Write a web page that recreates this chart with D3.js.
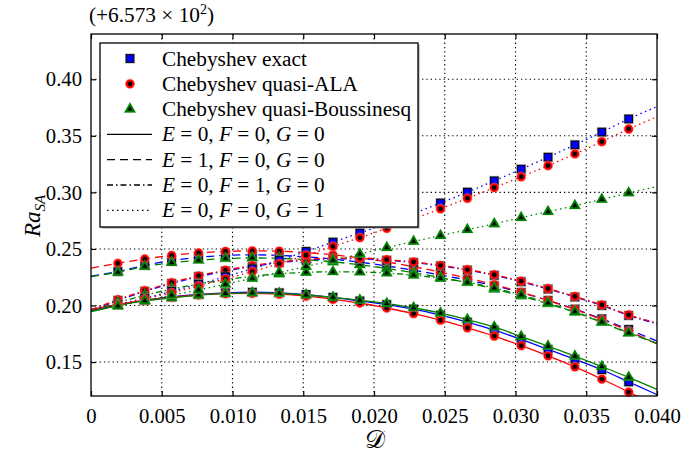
<!DOCTYPE html>
<html><head><meta charset="utf-8">
<script src="https://cdn.jsdelivr.net/npm/d3@7/dist/d3.min.js"></script>
<style>body{margin:0;background:#fff} text{font-family:"Liberation Serif","Times New Roman",serif;fill:#000}</style>
</head><body>
<svg id="c" width="682" height="459"></svg>
<script>
// ---------- data ----------
const xMarkers = [0.0019,0.0038,0.0057,0.0076,0.0095,0.0114,0.0133,0.0152,0.0171,0.0190,
                  0.0209,0.0228,0.0247,0.0266,0.0285,0.0304,0.0323,0.0342,0.0361,0.0380];
const xStart = 0, xEnd = 0.040;
// each series: value at x=0, at the 20 marker abscissae, and at x=0.040
const solidExact = [0.1955,0.2005,0.2045,0.2075,0.2098,0.2112,0.2117,0.2112,0.2097,0.2072,0.2040,0.2008,0.1968,0.1915,0.1853,0.1782,0.1700,0.1612,0.1525,0.1432,0.1325,0.1212];
const solidALA   = [0.1965,0.2010,0.2045,0.2072,0.2093,0.2105,0.2108,0.2100,0.2082,0.2055,0.2022,0.1978,0.1928,0.1870,0.1803,0.1730,0.1645,0.1555,0.1458,0.1350,0.1235,0.1110];
const solidBous  = [0.1945,0.2000,0.2040,0.2068,0.2092,0.2107,0.2112,0.2108,0.2093,0.2072,0.2047,0.2017,0.1980,0.1933,0.1876,0.1810,0.1725,0.1640,0.1552,0.1460,0.1365,0.1258];
const dashedExact = [0.2260,0.2300,0.2355,0.2398,0.2425,0.2443,0.2448,0.2443,0.2430,0.2410,0.2383,0.2350,0.2312,0.2270,0.2225,0.2175,0.2115,0.2045,0.1968,0.1882,0.1788,0.1685];
const dashedALA   = [0.2330,0.2373,0.2411,0.2443,0.2465,0.2478,0.2483,0.2480,0.2468,0.2448,0.2420,0.2385,0.2343,0.2295,0.2242,0.2185,0.2118,0.2045,0.1965,0.1875,0.1775,0.1660];
const dashedBous  = [0.2255,0.2295,0.2345,0.2378,0.2400,0.2415,0.2420,0.2417,0.2405,0.2386,0.2360,0.2328,0.2290,0.2247,0.2202,0.2145,0.2084,0.2015,0.1940,0.1850,0.1756,0.1665];
const dashdotExact = [0.1955,0.2045,0.2125,0.2195,0.2255,0.2305,0.2345,0.2378,0.2400,0.2412,0.2413,0.2400,0.2380,0.2350,0.2313,0.2267,0.2210,0.2145,0.2075,0.2000,0.1912,0.1838];
const dashdotALA   = [0.1962,0.2052,0.2132,0.2202,0.2262,0.2312,0.2352,0.2385,0.2407,0.2418,0.2420,0.2405,0.2385,0.2355,0.2318,0.2272,0.2215,0.2150,0.2080,0.2005,0.1918,0.1845];
const dashdotBous  = [0.1950,0.2025,0.2090,0.2145,0.2190,0.2228,0.2258,0.2280,0.2293,0.2298,0.2296,0.2287,0.2268,0.2240,0.2205,0.2155,0.2093,0.2022,0.1945,0.1855,0.1760,0.1668];
const dottedExact = [0.1955,0.2008,0.2065,0.2125,0.2188,0.2255,0.2325,0.2398,0.2478,0.2560,0.2642,0.2725,0.2813,0.2906,0.3002,0.3102,0.3205,0.3311,0.3420,0.3533,0.3649,0.3758];
const dottedALA   = [0.1962,0.2006,0.2058,0.2113,0.2172,0.2235,0.2300,0.2370,0.2445,0.2522,0.2600,0.2682,0.2767,0.2855,0.2947,0.3042,0.3138,0.3236,0.3340,0.3448,0.3560,0.3668];
const dottedBous  = [0.1950,0.1995,0.2042,0.2090,0.2138,0.2188,0.2240,0.2292,0.2345,0.2400,0.2455,0.2512,0.2566,0.2618,0.2670,0.2722,0.2776,0.2829,0.2882,0.2938,0.2995,0.3052];

const xTicks = [0,0.005,0.010,0.015,0.020,0.025,0.030,0.035,0.040];
const xTickLabels = ["0","0.005","0.010","0.015","0.020","0.025","0.030","0.035","0.040"];
const yTicks = [0.15,0.20,0.25,0.30,0.35,0.40];
const yTickLabels = ["0.15","0.20","0.25","0.30","0.35","0.40"];
const methodLabels = ["Chebyshev exact","Chebyshev quasi-ALA","Chebyshev quasi-Boussinesq"];
const caseEFG = [["0","0","0"],["1","0","0"],["0","1","0"],["0","0","1"]];

// ---------- layout ----------
const L = 91, R = 657, T = 34, B = 396;
const FS = 21.3;
const svg = d3.select("#c");
const x = d3.scaleLinear().domain([xStart, xEnd]).range([L, R]);
const y = d3.scaleLinear().domain([0.12, 0.44]).range([B, T]);

const colors = ["#0000ff", "#ff0000", "#008000"];
const dashes = [null, "8,5", "6,3,1.5,3", "1.5,3.5"];
const families = [
  [solidExact, solidALA, solidBous],
  [dashedExact, dashedALA, dashedBous],
  [dashdotExact, dashdotALA, dashdotBous],
  [dottedExact, dottedALA, dottedBous]
];
const xLine = [xStart, ...xMarkers, xEnd];

// grid
const grid = svg.append("g");
xTicks.slice(1, -1).forEach(t => grid.append("line")
  .attr("x1", x(t)).attr("x2", x(t)).attr("y1", T).attr("y2", B)
  .attr("stroke", "#000").attr("stroke-width", 1.1).attr("stroke-dasharray", "1.3,3"));
yTicks.forEach(t => grid.append("line")
  .attr("y1", y(t)).attr("y2", y(t)).attr("x1", L).attr("x2", R)
  .attr("stroke", "#000").attr("stroke-width", 1.1).attr("stroke-dasharray", "1.3,3"));

// clip
svg.append("clipPath").attr("id", "clip").append("rect")
  .attr("x", L).attr("y", T).attr("width", R - L).attr("height", B - T);
const plot = svg.append("g").attr("clip-path", "url(#clip)");

const lineGen = d3.line().x((d, i) => x(xLine[i])).y(d => y(d)).curve(d3.curveMonotoneX);
families.forEach((fam, fi) => {
  fam.forEach((s, ci) => {
    plot.append("path").attr("d", lineGen(s)).attr("fill", "none")
      .attr("stroke", colors[ci]).attr("stroke-width", 1.3)
      .attr("stroke-dasharray", dashes[fi]);
  });
});

function marker(g, kind, cx, cy) {
  if (kind === 0) {
    g.append("rect").attr("x", cx - 5).attr("y", cy - 5).attr("width", 10).attr("height", 10)
      .attr("fill", "#8a8a8a").attr("opacity", 0.7);
    g.append("rect").attr("x", cx - 3.8).attr("y", cy - 3.8).attr("width", 7.6).attr("height", 7.6)
      .attr("fill", "#0000ff").attr("stroke", "#000").attr("stroke-width", 1);
  } else if (kind === 1) {
    g.append("circle").attr("cx", cx).attr("cy", cy).attr("r", 5.2).attr("fill", "#ff8080").attr("opacity", 0.6);
    g.append("circle").attr("cx", cx).attr("cy", cy).attr("r", 3.4)
      .attr("fill", "#000").attr("stroke", "#ff0000").attr("stroke-width", 2);
  } else {
    const tri = d3.symbol().type(d3.symbolTriangle);
    g.append("path").attr("d", tri.size(68)()).attr("transform", `translate(${cx},${cy})`)
      .attr("fill", "#7fbf7f").attr("opacity", 0.7);
    g.append("path").attr("d", tri.size(30)()).attr("transform", `translate(${cx},${cy})`)
      .attr("fill", "#000").attr("stroke", "#008000").attr("stroke-width", 1.8);
  }
}
const mk = svg.append("g");
families.forEach(fam => {
  fam.forEach((s, ci) => {
    xMarkers.forEach((xv, i) => marker(mk, ci, x(xv), y(s[i + 1])));
  });
});

// axes frame
svg.append("rect").attr("x", L).attr("y", T).attr("width", R - L).attr("height", B - T)
  .attr("fill", "none").attr("stroke", "#000").attr("stroke-width", 1.3);

// ticks (inward, all sides) via d3 axes
const axB = svg.append("g").attr("transform", `translate(0,${B})`)
  .call(d3.axisBottom(x).tickValues(xTicks).tickSize(-5).tickFormat((d, i) => xTickLabels[i]).tickPadding(12));
const axT = svg.append("g").attr("transform", `translate(0,${T})`)
  .call(d3.axisTop(x).tickValues(xTicks).tickSize(-5).tickFormat(""));
const axL = svg.append("g").attr("transform", `translate(${L},0)`)
  .call(d3.axisLeft(y).tickValues(yTicks).tickSize(-5).tickFormat((d, i) => yTickLabels[i]).tickPadding(9));
const axR = svg.append("g").attr("transform", `translate(${R},0)`)
  .call(d3.axisRight(y).tickValues(yTicks).tickSize(-5).tickFormat(""));
[axB, axT, axL, axR].forEach(a => {
  a.select(".domain").remove();
  a.selectAll(".tick line").attr("stroke", "#000").attr("stroke-width", 1.2);
  a.selectAll("text").attr("font-family", "Liberation Serif").attr("font-size", 20.7).attr("fill", "#000");
});
axB.selectAll("text").attr("dy", "0.71em");

// offset text
const off = svg.append("text").attr("x", 89).attr("y", 22).attr("font-size", FS);
off.append("tspan").text("(+6.573 × 10");
off.append("tspan").attr("font-size", 14).attr("dy", -8).text("2");
off.append("tspan").attr("dy", 8).text(")");

// axis labels
svg.append("text").attr("x", 375).attr("y", 448).attr("text-anchor", "middle")
  .attr("font-size", 25).attr("font-family", "DejaVu Serif").text("𝒟");
const yl = svg.append("text").attr("transform", "translate(40,216) rotate(-90)")
  .attr("text-anchor", "middle").attr("font-size", 23).attr("font-style", "italic");
yl.append("tspan").text("Ra");
yl.append("tspan").attr("font-size", 15).attr("dy", 5).text("SA");

// legend
const lg = svg.append("g");
lg.append("rect").attr("x", 101.5).attr("y", 44.5).attr("width", 318).attr("height", 184)
  .attr("fill", "#999");
lg.append("rect").attr("x", 100).attr("y", 43).attr("width", 318).attr("height", 184)
  .attr("fill", "#fff").attr("stroke", "#000").attr("stroke-width", 1.3);
const rowY = d => 58.5 + d * 25.3;
methodLabels.forEach((lab, i) => {
  marker(lg, i, 130, rowY(i));
  lg.append("text").attr("x", 162).attr("y", rowY(i) + 7).attr("font-size", FS).text(lab);
});
caseEFG.forEach((efg, j) => {
  const ry = rowY(j + 3);
  lg.append("line").attr("x1", 107).attr("x2", 152).attr("y1", ry).attr("y2", ry)
    .attr("stroke", "#000").attr("stroke-width", 1.3).attr("stroke-dasharray", dashes[j]);
  const t = lg.append("text").attr("x", 162).attr("y", ry + 7).attr("font-size", FS);
  const names = ["E", "F", "G"];
  names.forEach((n, k) => {
    t.append("tspan").attr("font-style", "italic").text(n);
    t.append("tspan").text(" = " + efg[k] + (k < 2 ? ", " : ""));
  });
});
</script>
</body></html>
